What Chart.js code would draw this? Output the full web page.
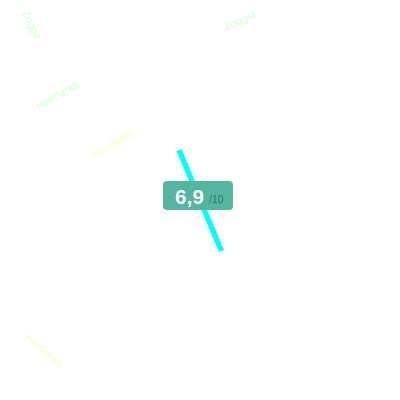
<!DOCTYPE html>
<html>
<head>
<meta charset="utf-8">
<style>
  html, body { margin: 0; padding: 0; background: #fff; }
  #wrap { width: 400px; height: 400px; }
</style>
<script src="https://cdn.jsdelivr.net/npm/chart.js@4"></script>
</head>
<body>
<div id="wrap"><canvas id="chart" width="400" height="400"></canvas></div>
<script>
const lineX = [179, 221.5];
const lineY = [150, 251];
const labelTexts = ['Zoggit', 'Zoggst', 'Neerlandt', 'Neerland', 'Heineken'];
const labelX = [31, 240, 58, 112, 44];
const labelY = [25, 21, 96, 145, 351];
const scoreText = '6,9';
const scoreMax = '/10';

// labels and score badge are drawn on top of the scatter line
const labelAngles = [66, -24, -30, -31, 40];
const labelColors = ['#d4ffda', '#d4ffda', '#d4ffda', '#f2ffcc', '#f2ffcc'];

const overlay = {
  id: 'overlay',
  afterDatasetsDraw(chart) {
    const { ctx, scales } = chart;
    ctx.save();
    ctx.font = '11px "Liberation Sans", Arial, sans-serif';
    ctx.textAlign = 'center';
    ctx.textBaseline = 'middle';
    labelTexts.forEach((t, i) => {
      ctx.save();
      ctx.translate(scales.x.getPixelForValue(labelX[i]), scales.y.getPixelForValue(labelY[i]));
      ctx.rotate(labelAngles[i] * Math.PI / 180);
      ctx.fillStyle = labelColors[i];
      ctx.fillText(t, 0, 0);
      ctx.restore();
    });

    ctx.fillStyle = '#52b79e';
    ctx.beginPath();
    ctx.roundRect(163, 181, 70, 29, 4);
    ctx.fill();

    ctx.textAlign = 'left';
    ctx.textBaseline = 'alphabetic';
    ctx.fillStyle = '#ffffff';
    ctx.font = 'bold 21px "Liberation Sans", Arial, sans-serif';
    ctx.fillText(scoreText, 175, 204);
    ctx.fillStyle = '#2f7564';
    ctx.font = '10.5px "Liberation Sans", Arial, sans-serif';
    ctx.fillText(scoreMax, 209, 203);
    ctx.restore();
  }
};

new Chart(document.getElementById('chart'), {
  type: 'scatter',
  data: {
    datasets: [{
      data: lineX.map((x, i) => ({ x, y: lineY[i] })),
      showLine: true,
      borderColor: '#00ffff',
      borderWidth: 5.5,
      pointRadius: 0
    }]
  },
  options: {
    responsive: false,
    animation: false,
    layout: { padding: 0 },
    plugins: { legend: { display: false }, tooltip: { enabled: false } },
    scales: {
      x: { display: false, min: 0, max: 400 },
      y: { display: false, min: 0, max: 400, reverse: true }
    }
  },
  plugins: [overlay]
});
</script>
</body>
</html>
